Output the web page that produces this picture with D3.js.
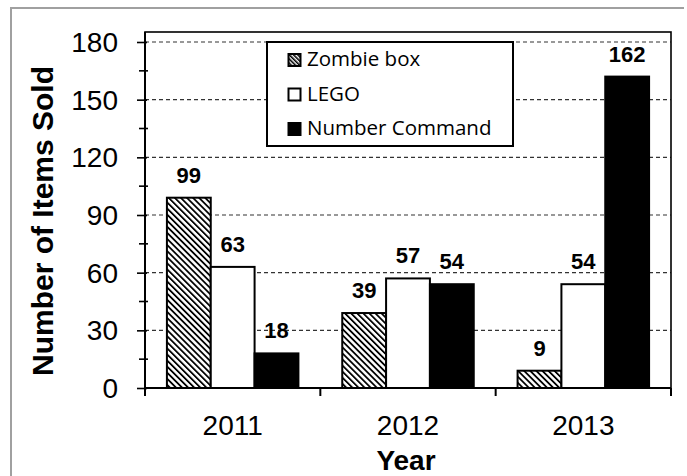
<!DOCTYPE html>
<html><head><meta charset="utf-8">
<script src="https://cdn.jsdelivr.net/npm/d3@7"></script>
<style>
html,body{margin:0;padding:0;background:#fff;}
svg{display:block;}
</style></head>
<body>
<svg id="chart" width="687" height="476"></svg>
<script>
const years = ["2011", "2012", "2013"];
const seriesNames = ["Zombie box", "LEGO", "Number Command"];
const zombieBox = [99, 39, 9];
const lego = [63, 57, 54];
const numberCommand = [18, 54, 162];
const yTicks = [0, 30, 60, 90, 120, 150, 180];
const yMinorTicks = [15, 45, 75, 105, 135, 165];
const xTitle = "Year";
const yTitle = "Number of Items Sold";

(function () {
const seriesValues = [zombieBox, lego, numberCommand];
const fills = ["url(#hatch)", "#ffffff", "#000000"];

const svg = d3.select("#chart");
const pL = 145, pR = 671, pT = 32, pB = 388;

const defs = svg.append("defs");
const pat = defs.append("pattern").attr("id", "hatch")
  .attr("patternUnits", "userSpaceOnUse").attr("width", 4.3).attr("height", 10)
  .attr("patternTransform", "rotate(-45)");
pat.append("rect").attr("width", 4.3).attr("height", 10).attr("fill", "#fff");
pat.append("rect").attr("x", 0).attr("width", 1.8).attr("height", 10).attr("fill", "#000");

const patL = defs.append("pattern").attr("id", "hatchL")
  .attr("patternUnits", "userSpaceOnUse").attr("width", 3).attr("height", 10)
  .attr("patternTransform", "rotate(-45)");
patL.append("rect").attr("width", 3).attr("height", 10).attr("fill", "#fff");
patL.append("rect").attr("width", 1.6).attr("height", 10).attr("fill", "#000");

// outer frame
svg.append("path").attr("d", "M11,480V8H684").attr("fill", "none")
  .attr("stroke", "#a0a0a0").attr("stroke-width", 2);

const x0 = d3.scaleBand().domain(years).range([pL, pR]).paddingInner(0).paddingOuter(0);
const x1 = d3.scaleBand().domain(seriesNames).range([0, x0.bandwidth()]).paddingInner(0).paddingOuter(0.5);
const y = d3.scaleLinear().domain([0, 180]).range([pB, 42]);

// gridlines
svg.append("g").selectAll("line").data(yTicks.filter(d => d > 0)).join("line")
  .attr("x1", pL).attr("x2", pR)
  .attr("y1", d => y(d)).attr("y2", d => y(d))
  .attr("stroke", "#333").attr("stroke-width", 1.2).attr("stroke-dasharray", "4,3");

// plot border
svg.append("rect").attr("x", pL).attr("y", pT).attr("width", pR - pL).attr("height", pB - pT)
  .attr("fill", "none").attr("stroke", "#000").attr("stroke-width", 1.6);

// bars
const barsG = svg.append("g");
seriesNames.forEach((s, j) => {
  barsG.append("g").selectAll("rect").data(years).join("rect")
    .attr("x", d => x0(d) + x1(s))
    .attr("y", (d, i) => y(seriesValues[j][i]))
    .attr("width", x1.bandwidth())
    .attr("height", (d, i) => y(0) - y(seriesValues[j][i]))
    .attr("fill", fills[j]).attr("stroke", "#000").attr("stroke-width", 2);
});

// data labels
seriesNames.forEach((s, j) => {
  svg.append("g").selectAll("text").data(years).join("text")
    .attr("x", d => x0(d) + x1(s) + x1.bandwidth() / 2)
    .attr("y", (d, i) => y(seriesValues[j][i]) - 15)
    .attr("text-anchor", "middle")
    .attr("font-family", "Liberation Sans, Arial, sans-serif")
    .attr("font-weight", "bold").attr("font-size", 22)
    .text((d, i) => seriesValues[j][i]);
});

// y axis
const yAxis = d3.axisLeft(y).tickValues(yTicks).tickSize(8).tickPadding(19).tickFormat(d3.format("d"));
const gy = svg.append("g").attr("transform", `translate(${pL},0)`).call(yAxis);
gy.select(".domain").remove();
gy.selectAll(".tick line").attr("stroke", "#000").attr("stroke-width", 1.6).attr("x2", -8).attr("x1", 2);
gy.selectAll(".tick text").attr("font-family", "Liberation Sans, Arial, sans-serif")
  .attr("font-size", 28).attr("fill", "#000").attr("dy", "0.34em");
svg.append("g").selectAll("line").data(yMinorTicks).join("line")
  .attr("x1", pL - 6).attr("x2", pL + 3)
  .attr("y1", d => y(d)).attr("y2", d => y(d))
  .attr("stroke", "#000").attr("stroke-width", 1.6);
svg.append("line").attr("x1", pL).attr("x2", pL).attr("y1", pT).attr("y2", pB + 8)
  .attr("stroke", "#000").attr("stroke-width", 2);

// x axis
svg.append("line").attr("x1", pL).attr("x2", pR).attr("y1", pB).attr("y2", pB)
  .attr("stroke", "#000").attr("stroke-width", 2);
const bounds = years.map(d => x0(d)).concat([pR]);
svg.append("g").selectAll("line").data(bounds).join("line")
  .attr("x1", d => d).attr("x2", d => d).attr("y1", pB).attr("y2", pB + 8)
  .attr("stroke", "#000").attr("stroke-width", 2);
const xAxis = d3.axisBottom(x0).tickSize(0).tickPadding(0);
const gx = svg.append("g").attr("transform", `translate(0,${pB})`).call(xAxis);
gx.select(".domain").remove();
gx.selectAll(".tick text").attr("font-family", "Liberation Sans, Arial, sans-serif")
  .attr("font-size", 28).attr("fill", "#000").attr("y", 47).attr("dy", null);

// axis titles
svg.append("text").attr("x", 406).attr("y", 470).attr("text-anchor", "middle")
  .attr("font-family", "Liberation Sans, Arial, sans-serif").attr("font-weight", "bold")
  .attr("font-size", 28).text(xTitle);
svg.append("text").attr("transform", "translate(53,221) rotate(-90)").attr("text-anchor", "middle")
  .attr("font-family", "Liberation Sans, Arial, sans-serif").attr("font-weight", "bold")
  .attr("font-size", 30).text(yTitle);

// legend
const lg = svg.append("g");
lg.append("rect").attr("x", 267).attr("y", 42).attr("width", 246).attr("height", 104)
  .attr("fill", "#fff").attr("stroke", "#000").attr("stroke-width", 2);
const legendFills = ["url(#hatchL)", "#fff", "#000"];
seriesNames.forEach((s, j) => {
  const by = 66 + j * 34.5;
  lg.append("rect").attr("x", 288.5).attr("y", by - 12).attr("width", 12).attr("height", 12)
    .attr("fill", legendFills[j]).attr("stroke", "#000").attr("stroke-width", 2);
  lg.append("text").attr("x", 307).attr("y", by)
    .attr("font-family", "Open Sans, Noto Sans, sans-serif").attr("font-size", 20.5)
    .attr("fill", "#000").text(s);
});
})();
</script>
</body></html>
